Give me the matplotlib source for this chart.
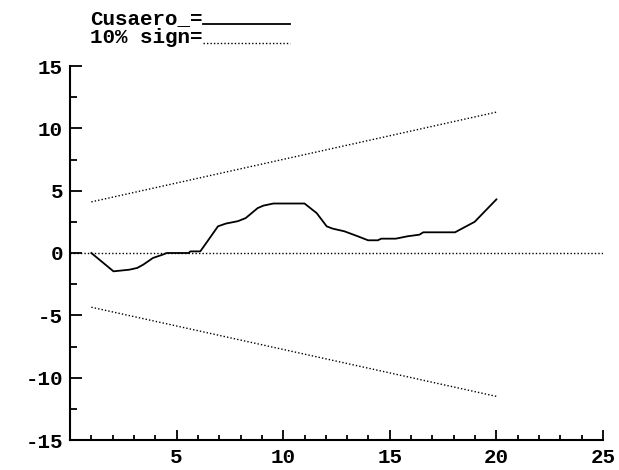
import matplotlib
matplotlib.use('Agg')
import matplotlib.pyplot as plt
from matplotlib.lines import Line2D
from matplotlib.ticker import MultipleLocator
from matplotlib.font_manager import FontProperties

# valores
cusum_x = [1.0, 2.04, 2.78, 3.15, 3.43, 3.89, 4.35, 4.54, 5.56, 5.65, 6.11, 6.39, 6.94,
           7.31, 7.87, 8.24, 8.8, 9.07, 9.54, 11.0, 11.57, 12.04, 12.31, 12.87, 13.5,
           13.98, 14.44, 14.6, 15.28, 15.83, 16.39, 16.57, 18.06, 18.43, 18.98, 20.0]
cusum_y = [0.0, -1.47, -1.34, -1.2, -0.94, -0.4, -0.13, 0.0, 0.0, 0.13, 0.13, 0.8, 2.14,
           2.36, 2.55, 2.8, 3.6, 3.8, 3.97, 3.97, 3.2, 2.14, 1.96, 1.74, 1.34,
           1.02, 1.02, 1.15, 1.15, 1.34, 1.47, 1.66, 1.66, 2.0, 2.5, 4.3]
banda_x = [1, 20]
banda_sup = [4.1, 11.3]
banda_inf = [-4.35, -11.5]
zero_x = [0, 25]
zero_y = [0, 0]

xticks = [5, 10, 15, 20, 25]
yticks = [-15, -10, -5, 0, 5, 10, 15]
legenda = ['Cusaero_=', '10% sign=']

fonte = {'family': 'Liberation Mono', 'weight': 'bold', 'size': 15}
pontilhado = (0, (1, 1.5))

fig = plt.figure(figsize=(6.19, 4.70), dpi=100)
ax = fig.add_axes([70 / 619, 1 - 440 / 470, (603 - 70) / 619, (440 - 66) / 470])

ax.plot(cusum_x, cusum_y, color='black', linewidth=1.3)
ax.plot(banda_x, banda_sup, color='black', linewidth=1.0, linestyle=pontilhado)
ax.plot(banda_x, banda_inf, color='black', linewidth=1.0, linestyle=pontilhado)
ax.plot(zero_x, zero_y, color='black', linewidth=1.0, linestyle=pontilhado)

ax.set_xlim(0, 25)
ax.set_ylim(-15, 15)
ax.set_xticks(xticks)
ax.set_xticklabels([str(v) for v in xticks])
ax.set_yticks(yticks)
ax.set_yticklabels([str(v) for v in yticks])
ax.xaxis.set_minor_locator(MultipleLocator(1))
ax.yaxis.set_minor_locator(MultipleLocator(2.5))

for lado in ['top', 'right']:
    ax.spines[lado].set_visible(False)
for lado in ['left', 'bottom']:
    ax.spines[lado].set_linewidth(1.5)

ax.tick_params(axis='x', which='major', direction='in', length=7, width=1.3, pad=6)
ax.tick_params(axis='x', which='minor', direction='in', length=3.6, width=1.3)
ax.tick_params(axis='y', which='major', direction='in', length=8.6, width=1.3, pad=5)
ax.tick_params(axis='y', which='minor', direction='in', length=5, width=1.3)
for lab in ax.get_xticklabels() + ax.get_yticklabels():
    lab.set_fontproperties(FontProperties(**fonte))

# legenda em texto no canto superior
renderer = fig.canvas.get_renderer()
estilos = ['-', pontilhado]
bases = [1 - 24 / 470, 1 - 43 / 470]
for txt, est, yb in zip(legenda, estilos, bases):
    t = fig.text(90 / 619, yb, txt, fontdict=fonte, va='baseline', ha='left')
    bb = t.get_window_extent(renderer=renderer)
    x0 = bb.x1 / fig.bbox.width
    fig.add_artist(Line2D([x0, 290 / 619], [yb, yb], color='black',
                          linewidth=1.3 if est == '-' else 1.0, linestyle=est))

fig.savefig('out.png', dpi=100)
